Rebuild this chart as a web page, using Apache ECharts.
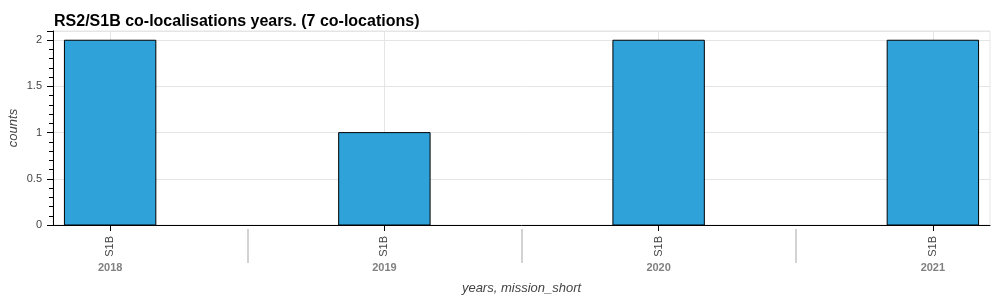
<!DOCTYPE html>
<html>
<head>
<meta charset="utf-8">
<script src="https://cdn.jsdelivr.net/npm/echarts@6/dist/echarts.min.js"></script>
<style>
html,body{margin:0;padding:0;background:#fff;}
#chart{width:1000px;height:300px;}
</style>
</head>
<body>
<div id="chart"></div>
<script>
// ---- data ----
const years = ['2018', '2019', '2020', '2021'];
const missions = ['S1B', 'S1B', 'S1B', 'S1B'];
const counts = [2, 1, 2, 2];
const yTicks = [0, 0.5, 1, 1.5, 2];
const titleText = 'RS2/S1B co-localisations years. (7 co-locations)';

// factor-range layout (1 unit per factor, 1.4 padding between groups)
const GROUP_STEP = 2.4;
const pos = i => 0.5 + i * GROUP_STEP;
const centers = years.map((_, i) => pos(i));
const separators = years.slice(1).map((_, i) => pos(i) + GROUP_STEP / 2);
const xMax = pos(years.length - 1) + 0.5;
const idxOf = v => Math.round((v - 0.5) / GROUP_STEP);

const FONT = '"Liberation Sans", Arial, Helvetica, sans-serif';

const chart = echarts.init(document.getElementById('chart'));
chart.setOption({
  animation: false,
  textStyle: { fontFamily: FONT },
  title: {
    text: titleText,
    left: 54, top: 14, padding: 0,
    textStyle: { fontFamily: FONT, fontSize: 16, fontWeight: 'bold', color: '#000' }
  },
  grid: {
    left: 53, right: 10, top: 31, bottom: 75,
    containLabel: false, outerBoundsMode: 'none',
    show: true, borderColor: '#e5e5e5', borderWidth: 1
  },
  xAxis: [
    {
      type: 'value', min: 0, max: xMax,
      name: 'years, mission_short', nameLocation: 'middle', nameGap: 57, nameMoveOverlap: false,
      nameTextStyle: { fontFamily: FONT, fontSize: 13, fontStyle: 'italic', color: '#444' },
      axisLine: { show: true, lineStyle: { color: '#000', width: 1 } },
      axisTick: { show: true, customValues: centers, length: 6, lineStyle: { color: '#000' } },
      axisLabel: {
        customValues: centers, rotate: 90, margin: 11,
        fontFamily: FONT, fontSize: 11, color: '#444',
        formatter: v => missions[idxOf(v)]
      },
      splitLine: { show: true, lineStyle: { color: '#e5e5e5' } }
    },
    {
      type: 'value', min: 0, max: xMax, position: 'bottom', offset: 4,
      axisLine: { show: false },
      axisTick: { show: true, customValues: separators, length: 34, lineStyle: { color: '#d3d3d3', width: 2 } },
      axisLabel: {
        customValues: centers, margin: 33,
        fontFamily: FONT, fontSize: 11, fontWeight: 'bold', color: '#808080',
        formatter: v => years[idxOf(v)]
      },
      splitLine: { show: false }
    }
  ],
  yAxis: {
    type: 'value', min: 0, max: 2.1, interval: 0.5,
    name: 'counts', nameLocation: 'middle', nameGap: 33, nameMoveOverlap: false,
    nameTextStyle: { fontFamily: FONT, fontSize: 13, fontStyle: 'italic', color: '#444' },
    axisLine: { show: true, lineStyle: { color: '#000', width: 1 } },
    axisTick: { show: true, length: 6, lineStyle: { color: '#000' } },
    minorTick: { show: true, splitNumber: 5, length: 4, lineStyle: { color: '#000' } },
    axisLabel: {
      margin: 11, fontFamily: FONT, fontSize: 11, color: '#444', showMaxLabel: false,
      formatter: v => (yTicks.indexOf(v) >= 0 ? String(v) : '')
    },
    splitLine: { show: true, lineStyle: { color: '#e5e5e5' } }
  },
  series: [{
    type: 'custom',
    xAxisIndex: 0, yAxisIndex: 0,
    data: counts.map((c, i) => [pos(i), c]),
    renderItem: (params, api) => {
      const x = api.value(0), y = api.value(1);
      const p0 = api.coord([x - 0.4, y]);
      const p1 = api.coord([x + 0.4, 0]);
      return {
        type: 'rect',
        shape: { x: p0[0], y: p0[1], width: p1[0] - p0[0], height: p1[1] - p0[1] },
        style: { fill: '#30a2da', stroke: '#000', lineWidth: 1 }
      };
    }
  }]
});
</script>
</body>
</html>
